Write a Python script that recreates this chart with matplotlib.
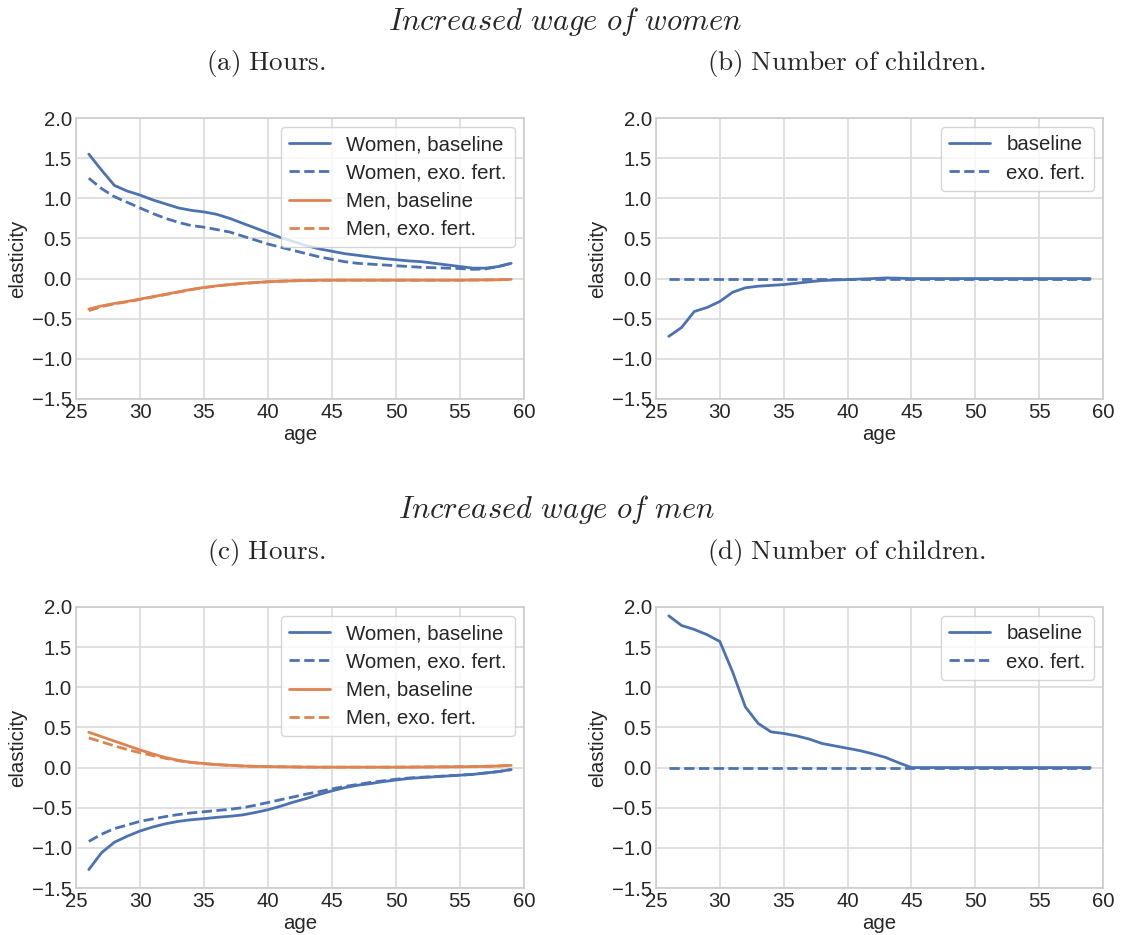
import matplotlib
matplotlib.use("Agg")
import matplotlib.pyplot as plt
import matplotlib.ticker as mticker
import seaborn as sns

sns.set_style("whitegrid")
plt.rcParams['font.family'] = ['Liberation Sans', 'DejaVu Sans']
plt.rcParams['mathtext.fontset'] = 'cm'
plt.rcParams['axes.unicode_minus'] = True

ages = [26, 27, 28, 29, 30, 31, 32, 33, 34, 35, 36, 37, 38, 39, 40, 41, 42,
        43, 44, 45, 46, 47, 48, 49, 50, 51, 52, 53, 54, 55, 56, 57, 58, 59]

# (a) Hours, increased wage of women
a_women_base = [1.55, 1.35, 1.16, 1.09, 1.04, 0.98, 0.93, 0.88, 0.85, 0.83,
                0.80, 0.75, 0.69, 0.63, 0.57, 0.51, 0.46, 0.41, 0.37, 0.34,
                0.31, 0.29, 0.27, 0.25, 0.235, 0.22, 0.21, 0.19, 0.17, 0.15,
                0.13, 0.13, 0.15, 0.19]
a_women_exo = [1.25, 1.12, 1.02, 0.95, 0.88, 0.81, 0.75, 0.70, 0.66, 0.64,
               0.61, 0.58, 0.53, 0.48, 0.43, 0.39, 0.35, 0.31, 0.27, 0.24,
               0.21, 0.19, 0.18, 0.17, 0.16, 0.15, 0.14, 0.135, 0.13, 0.125,
               0.115, 0.12, 0.15, 0.19]
a_men_base = [-0.38, -0.34, -0.31, -0.285, -0.255, -0.225, -0.195, -0.165, -0.135, -0.11,
              -0.09, -0.075, -0.06, -0.05, -0.04, -0.033, -0.028, -0.024, -0.021, -0.02,
              -0.02, -0.02, -0.02, -0.02, -0.02, -0.02, -0.02, -0.02, -0.02, -0.02,
              -0.018, -0.017, -0.015, -0.01]
a_men_exo = [-0.40, -0.35, -0.315, -0.29, -0.26, -0.23, -0.20, -0.168, -0.138, -0.113,
             -0.092, -0.076, -0.061, -0.05, -0.04, -0.033, -0.028, -0.024, -0.021, -0.02,
             -0.02, -0.02, -0.02, -0.02, -0.02, -0.02, -0.02, -0.02, -0.02, -0.02,
             -0.018, -0.017, -0.015, -0.01]

# (b) Number of children, increased wage of women
b_base = [-0.72, -0.61, -0.41, -0.36, -0.285, -0.17, -0.115, -0.095, -0.085, -0.075,
          -0.058, -0.04, -0.025, -0.018, -0.012, -0.006, 0.0, 0.008, 0.005, 0.0,
          0.0, 0.0, 0.0, 0.0, 0.0, 0.0, 0.0, 0.0, 0.0, 0.0,
          0.0, 0.0, 0.0, 0.0]
b_exo = [0.0, 0.0, 0.0, 0.0, 0.0, 0.0, 0.0, 0.0, 0.0, 0.0,
         0.0, 0.0, 0.0, 0.0, 0.0, 0.0, 0.0, 0.0, 0.0, 0.0,
         0.0, 0.0, 0.0, 0.0, 0.0, 0.0, 0.0, 0.0, 0.0, 0.0,
         0.0, 0.0, 0.0, 0.0]

# (c) Hours, increased wage of men
c_women_base = [-1.27, -1.06, -0.93, -0.855, -0.79, -0.74, -0.70, -0.67, -0.65, -0.636,
                -0.62, -0.607, -0.59, -0.56, -0.525, -0.48, -0.43, -0.385, -0.335, -0.29,
                -0.25, -0.22, -0.20, -0.175, -0.155, -0.135, -0.125, -0.115, -0.105, -0.095,
                -0.085, -0.068, -0.05, -0.025]
c_women_exo = [-0.92, -0.83, -0.76, -0.715, -0.67, -0.64, -0.61, -0.585, -0.565, -0.55,
               -0.535, -0.52, -0.50, -0.47, -0.435, -0.40, -0.365, -0.33, -0.30, -0.265,
               -0.235, -0.21, -0.185, -0.165, -0.145, -0.13, -0.12, -0.112, -0.103, -0.094,
               -0.084, -0.067, -0.05, -0.025]
c_men_base = [0.44, 0.385, 0.33, 0.275, 0.22, 0.17, 0.125, 0.09, 0.065, 0.05,
              0.037, 0.028, 0.02, 0.015, 0.012, 0.01, 0.008, 0.006, 0.005, 0.005,
              0.005, 0.005, 0.005, 0.005, 0.005, 0.006, 0.007, 0.008, 0.009, 0.01,
              0.012, 0.015, 0.02, 0.028]
c_men_exo = [0.37, 0.32, 0.27, 0.225, 0.185, 0.15, 0.115, 0.085, 0.063, 0.048,
             0.037, 0.028, 0.02, 0.015, 0.012, 0.01, 0.008, 0.006, 0.005, 0.005,
             0.005, 0.005, 0.005, 0.005, 0.005, 0.006, 0.007, 0.008, 0.009, 0.01,
             0.012, 0.015, 0.02, 0.028]

# (d) Number of children, increased wage of men
d_base = [1.89, 1.77, 1.72, 1.655, 1.57, 1.19, 0.755, 0.55, 0.445, 0.425,
          0.395, 0.355, 0.30, 0.27, 0.24, 0.21, 0.17, 0.125, 0.06, 0.0,
          0.0, 0.0, 0.0, 0.0, 0.0, 0.0, 0.0, 0.0, 0.0, 0.0,
          0.0, 0.0, 0.0, 0.0]
d_exo = [0.0, 0.0, 0.0, 0.0, 0.0, 0.0, 0.0, 0.0, 0.0, 0.0,
         0.0, 0.0, 0.0, 0.0, 0.0, 0.0, 0.0, 0.0, 0.0, 0.0,
         0.0, 0.0, 0.0, 0.0, 0.0, 0.0, 0.0, 0.0, 0.0, 0.0,
         0.0, 0.0, 0.0, 0.0]

section_titles = ["Increased wage of women", "Increased wage of men"]
panel_titles = ["(a) Hours.", "(b) Number of children.",
                "(c) Hours.", "(d) Number of children."]

BLUE = "#4C72B0"
ORANGE = "#DD8452"
W, H = 1121, 935
FS = 14.7
LW = 2.0

fig = plt.figure(figsize=(W / 100, H / 100), dpi=100)


def make_axes(x0, y0, x1, y1):
    return fig.add_axes([x0 / W, 1 - y1 / H, (x1 - x0) / W, (y1 - y0) / H])


def fmt(v, pos):
    return f"{v:.1f}".replace("-", "\u2212")


def style(ax):
    ax.set_xlim(25, 60)
    ax.set_ylim(-1.5, 2.0)
    ax.set_xticks([25, 30, 35, 40, 45, 50, 55, 60])
    ax.set_yticks([-1.5, -1.0, -0.5, 0.0, 0.5, 1.0, 1.5, 2.0])
    ax.yaxis.set_major_formatter(mticker.FuncFormatter(fmt))
    ax.tick_params(labelsize=FS, length=0, pad=3, colors='#262626')
    ax.set_xlabel("age", fontsize=FS, color='#262626', labelpad=2)
    ax.set_ylabel("elasticity", fontsize=FS, color='#262626', labelpad=3)
    ax.grid(True, color='#dadada', linewidth=1.2)
    for s in ax.spines.values():
        s.set_color('#cccccc')
        s.set_linewidth(1.2)
    ax.set_axisbelow(True)


def add_legend(ax):
    leg = ax.legend(loc='upper right', fontsize=FS, frameon=True, framealpha=0.8,
                    edgecolor='#cccccc', borderaxespad=0.45, labelspacing=0.45,
                    handlelength=2.0, handletextpad=0.8, borderpad=0.4)
    leg.get_frame().set_linewidth(1.0)


def hours_panel(ax, wb, we, mb, me):
    ax.plot(ages, wb, color=BLUE, lw=LW, label="Women, baseline")
    ax.plot(ages, we, color=BLUE, lw=LW, ls='--', label="Women, exo. fert.")
    ax.plot(ages, mb, color=ORANGE, lw=LW, label="Men, baseline")
    ax.plot(ages, me, color=ORANGE, lw=LW, ls='--', label="Men, exo. fert.")
    style(ax)
    add_legend(ax)


def kids_panel(ax, base, exo):
    ax.plot(ages, base, color=BLUE, lw=LW, label="baseline")
    ax.plot(ages, exo, color=BLUE, lw=LW, ls='--', label="exo. fert.")
    style(ax)
    add_legend(ax)


ax_a = make_axes(76, 118, 524, 399)
ax_b = make_axes(656, 118, 1103, 399)
ax_c = make_axes(76, 607, 524, 888)
ax_d = make_axes(656, 607, 1103, 888)

hours_panel(ax_a, a_women_base, a_women_exo, a_men_base, a_men_exo)
kids_panel(ax_b, b_base, b_exo)
hours_panel(ax_c, c_women_base, c_women_exo, c_men_base, c_men_exo)
kids_panel(ax_d, d_base, d_exo)


def mt(s, kind):
    body = s.replace(' ', r'\ ')
    return (r'$\mathit{' if kind == 'it' else r'$\mathrm{') + body + '}$'


TFS = 22
SFS = 19.5
fig.text(565 / W, 1 - 30 / H, mt(section_titles[0], 'it'), fontsize=TFS,
         ha='center', va='baseline')
fig.text(557 / W, 1 - 518 / H, mt(section_titles[1], 'it'), fontsize=TFS,
         ha='center', va='baseline')
fig.text(266 / W, 1 - 70 / H, mt(panel_titles[0], 'rm'), fontsize=SFS,
         ha='center', va='baseline')
fig.text(847 / W, 1 - 70 / H, mt(panel_titles[1], 'rm'), fontsize=SFS,
         ha='center', va='baseline')
fig.text(266 / W, 1 - 559 / H, mt(panel_titles[2], 'rm'), fontsize=SFS,
         ha='center', va='baseline')
fig.text(847 / W, 1 - 559 / H, mt(panel_titles[3], 'rm'), fontsize=SFS,
         ha='center', va='baseline')

fig.savefig("out.png", dpi=100, facecolor='white')
